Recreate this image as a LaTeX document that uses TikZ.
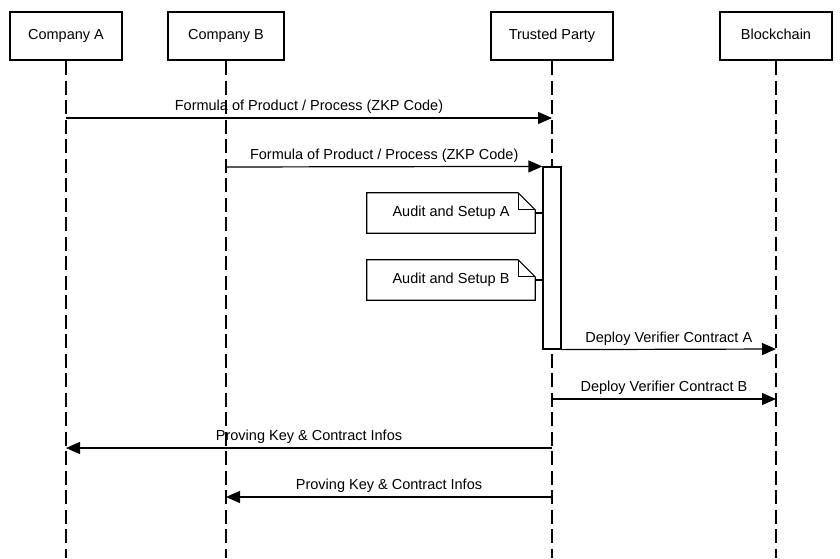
\documentclass[tikz,border=0pt]{standalone}
\usepackage{fontspec}
\setmainfont{Liberation Sans}
\usetikzlibrary{arrows.meta, positioning, calc}

\begin{document}
\begin{tikzpicture}[x=1pt, y=-1pt, font=\fontsize{14.5}{17}\selectfont,
        >={Triangle[length=14pt, width=12pt]}]
        \tikzset{actor/.style={draw, line width=2pt, minimum height=48pt, inner sep=0pt, text height=10.5pt, text depth=3pt}}
        \tikzset{lifeline/.style={line width=1.2pt, dash pattern=on 14pt off 5.5pt}}
        \tikzset{msg/.style={->, line width=1.2pt}}
        \tikzset{msglabel/.style={above, inner sep=3.5pt}}
        \tikzset{notebox/.style={minimum width=168pt, minimum height=40pt, inner sep=0pt}}
        \useasboundingbox (0,0) rectangle (840,558);

        % participants
        \node[actor, minimum width=112pt] (compA) at (66,36) {Company A};
        \node[actor, minimum width=116pt] (compB) at (226,36) {Company B};
        \node[actor, minimum width=122pt] (trusted) at (552,36) {Trusted Party};
        \node[actor, minimum width=112pt] (chain) at (776,36) {Blockchain};

        % lifelines
        \coordinate (endA) at (66,558);
        \coordinate (endB) at (226,558);
        \coordinate (endT) at (552,558);
        \coordinate (endC) at (776,558);
        \draw[lifeline] (compA) -- (endA);
        \draw[lifeline] (compB) -- (endB);
        \draw[lifeline] (trusted) -- (endT);
        \draw[lifeline] (chain) -- (endC);

        % activation of the trusted party
        \node[draw, fill=white, line width=1.2pt, minimum width=18pt, minimum height=182pt, inner sep=0pt] (act) at (552,258) {};

        % notes
        \node[notebox] (noteA) at (451,213) {Audit and Setup A};
        \node[notebox] (noteB) at (451,280) {Audit and Setup B};
        \foreach \n in {noteA, noteB} {
            \draw[line width=1.2pt] (\n.north west) -- ($(\n.north east)+(-17,0)$) -- ($(\n.north east)+(0,17)$)
                -- (\n.south east) -- (\n.south west) -- cycle;
            \draw[line width=1.2pt] ($(\n.north east)+(-17,0)$) -- ($(\n.north east)+(-17,17)$) -- ($(\n.north east)+(0,17)$);
            \draw[line width=1.2pt] (\n.east) -- (act.west |- \n.east);
        }

        % message end points
        \coordinate (a1) at (66,118);
        \coordinate (t1) at (552,118);
        \coordinate (b2) at (226,167);
        \coordinate (c6) at (776,349);
        \coordinate (t7) at (552,399);
        \coordinate (c7) at (776,399);
        \coordinate (t8) at (552,448);
        \coordinate (a8) at (66,448);
        \coordinate (t9) at (552,497);
        \coordinate (b9) at (226,497);

        % messages
        \path[msg]
        (a1) edge node[msglabel] {Formula of Product / Process (ZKP Code)} (t1)
        (b2) edge node[msglabel] {Formula of Product / Process (ZKP Code)} (act.north west)
        (act.south east) edge node[msglabel] {Deploy Verifier Contract A} (c6)
        (t7) edge node[msglabel] {Deploy Verifier Contract B} (c7)
        (t8) edge node[msglabel] {Proving Key \& Contract Infos} (a8)
        (t9) edge node[msglabel] {Proving Key \& Contract Infos} (b9);
    \end{tikzpicture}
\end{document}
